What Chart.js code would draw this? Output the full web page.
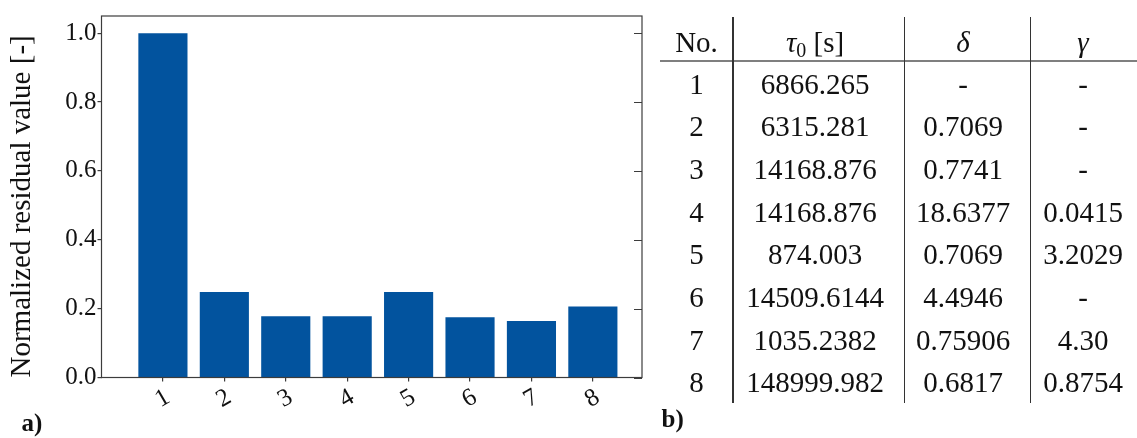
<!DOCTYPE html>
<html>
<head>
<meta charset="utf-8">
<script src="https://cdn.jsdelivr.net/npm/chart.js@4/dist/chart.umd.min.js"></script>
<style>
  html, body { margin: 0; padding: 0; background: #fff; width: 1137px; height: 438px; overflow: hidden; }
  #plot { position: absolute; left: 0; top: 0; width: 660px; height: 438px; }
  #tbl { position: absolute; left: 0; top: 0; width: 1137px; height: 438px;
         font-family: "Liberation Serif", "Times New Roman", serif; color: #111; pointer-events: none; }
  .cell { position: absolute; width: 200px; height: 32px; font-size: 29px; line-height: 32px;
          text-align: center; white-space: nowrap; }
  .cell sub { font-size: 20px; vertical-align: -5px; line-height: 0; }
  .rule { position: absolute; }
  .panel { position: absolute; font-size: 25px; line-height: 28px; font-weight: bold; color: #111; }
</style>
</head>
<body>
<div id="plot"><canvas id="c"></canvas></div>
<div id="tbl"></div>
<script>
// Residual of each fitted model variant, normalised to the first one
const caseNo   = [1, 2, 3, 4, 5, 6, 7, 8];
const residual = [1.0, 0.248, 0.178, 0.178, 0.248, 0.175, 0.164, 0.206];
const yTicks   = [0.0, 0.2, 0.4, 0.6, 0.8, 1.0];

// Fitted parameters per variant
const tau0  = ['6866.265', '6315.281', '14168.876', '14168.876', '874.003', '14509.6144', '1035.2382', '148999.982'];
const delta = ['-', '0.7069', '0.7741', '18.6377', '0.7069', '4.4946', '0.75906', '0.6817'];
const gamma = ['-', '-', '-', '0.0415', '3.2029', '-', '4.30', '0.8754'];
const headers = ['No.', '<i>τ</i><sub>0</sub> [s]', '<i>δ</i>', '<i>γ</i>'];

const SERIF = '"Liberation Serif", "Times New Roman", serif';
const INK = '#111111';
const AXIS = '#3c3c3c';

// closed box around the plot area plus inward ticks on the right edge
const framePlugin = {
  id: 'frame',
  afterDraw(chart) {
    const { ctx, chartArea: a, scales: { y } } = chart;
    ctx.save();
    ctx.strokeStyle = AXIS;
    ctx.lineWidth = 1.2;
    ctx.strokeRect(a.left, a.top, a.right - a.left, a.bottom - a.top);
    ctx.beginPath();
    y.ticks.forEach(t => {
      const py = Math.round(y.getPixelForValue(t.value)) + 0.5;
      ctx.moveTo(a.right - 8, py);
      ctx.lineTo(a.right, py);
    });
    ctx.stroke();
    ctx.restore();
  }
};

new Chart(document.getElementById('c'), {
  type: 'bar',
  data: {
    datasets: [{
      data: caseNo.map((n, i) => ({ x: n, y: residual[i] })),
      backgroundColor: '#02539e',
      borderWidth: 0,
      barPercentage: 0.8,
      categoryPercentage: 1.0
    }]
  },
  plugins: [framePlugin],
  options: {
    responsive: true,
    maintainAspectRatio: false,
    animation: false,
    layout: { padding: { left: 0, top: 9, right: 18, bottom: 0 } },
    plugins: { legend: { display: false }, tooltip: { enabled: false } },
    scales: {
      x: {
        type: 'linear',
        min: 0,
        max: 8.8,
        offset: false,
        afterBuildTicks: s => { s.ticks = caseNo.map(v => ({ value: v })); },
        afterFit: s => { s.height = 60.5; },
        border: { display: false },
        grid: { offset: false, drawOnChartArea: false, drawTicks: true, tickLength: 4, color: AXIS, lineWidth: 1.2 },
        ticks: {
          autoSkip: false,
          minRotation: 30,
          maxRotation: 30,
          padding: 1,
          labelOffset: 5,
          color: INK,
          font: { family: SERIF, size: 25 },
          callback: v => String(v)
        }
      },
      y: {
        type: 'linear',
        min: 0,
        max: 1.05,
        afterBuildTicks: s => { s.ticks = yTicks.map(v => ({ value: v })); },
        afterFit: s => { s.width = 101.5; },
        border: { display: false },
        grid: { drawOnChartArea: false, drawTicks: true, tickLength: 4, color: AXIS, lineWidth: 1.2 },
        ticks: {
          padding: 1,
          color: INK,
          font: { family: SERIF, size: 25 },
          callback: v => Number(v).toFixed(1)
        },
        title: {
          display: true,
          text: 'Normalized residual value [-]',
          align: 'start',
          color: INK,
          font: { family: SERIF, size: 29, lineHeight: 1 },
          padding: { top: 7.5, bottom: 0 }
        }
      }
    }
  }
});

// parameter table
(function buildTable() {
  const box = document.getElementById('tbl');
  const colX = [696.5, 815, 963, 1083];
  const headY = 41.5, rowY0 = 83.5, rowStep = 42.7;
  const put = (html, cx, cy) => {
    const d = document.createElement('div');
    d.className = 'cell';
    d.style.left = (cx - 100) + 'px';
    d.style.top = (cy - 16) + 'px';
    d.innerHTML = html;
    box.appendChild(d);
  };
  const rule = (x, y, w, h, c) => {
    const d = document.createElement('div');
    d.className = 'rule';
    Object.assign(d.style, { left: x + 'px', top: y + 'px', width: w + 'px', height: h + 'px', background: c });
    box.appendChild(d);
  };
  headers.forEach((h, j) => put(h, colX[j], headY));
  caseNo.forEach((n, i) => {
    const cy = rowY0 + i * rowStep;
    put(String(n), colX[0], cy);
    put(tau0[i], colX[1], cy);
    put(delta[i], colX[2], cy);
    put(gamma[i], colX[3], cy);
  });
  rule(660, 59.7, 477, 2, '#7f7f7f');
  [732.3, 903.8, 1029.5].forEach(x => rule(x, 17, 1.3, 386, '#333'));

  const panel = (txt, x, top) => {
    const d = document.createElement('div');
    d.className = 'panel';
    d.style.left = x + 'px';
    d.style.top = top + 'px';
    d.textContent = txt;
    box.appendChild(d);
  };
  panel('a)', 21.5, 408.5);
  panel('b)', 661.5, 405);
})();
</script>
</body>
</html>
